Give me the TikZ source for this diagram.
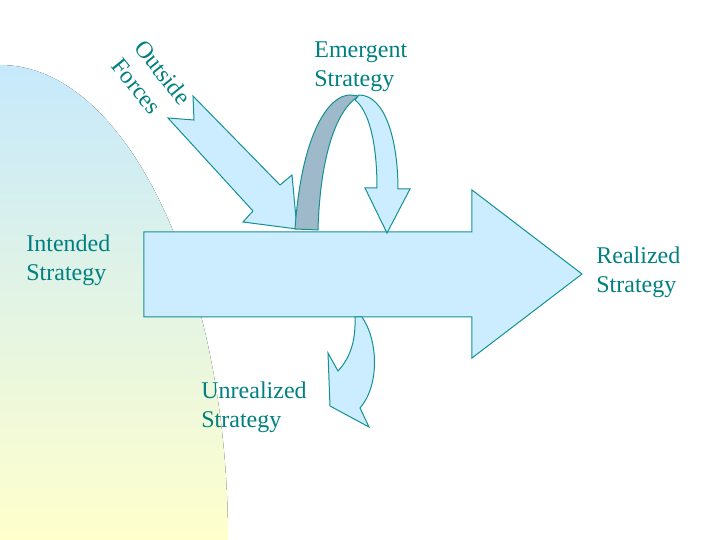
\documentclass[tikz,border=0pt]{standalone}
\usepackage{fontspec}
\setmainfont{Liberation Serif}
\usetikzlibrary{positioning}
\definecolor{tealCol}{RGB}{0,128,128}
\definecolor{edgeCol}{RGB}{20,145,145}
\definecolor{arrCol}{RGB}{204,236,255}
\definecolor{bandCol}{RGB}{158,185,202}
\definecolor{skyCol}{RGB}{198,233,252}
\definecolor{sunCol}{RGB}{255,255,204}
\tikzset{
  blk/.style={draw=edgeCol,line width=0.5pt,fill=arrCol,line join=miter},
  band/.style={blk,fill=bandCol},
  lab/.style={text=tealCol,font=\fontsize{12}{14.5}\selectfont,align=left,
              inner sep=0pt,anchor=north west},
  rlab/.style={text=tealCol,font=\fontsize{12}{14.5}\selectfont,
               inner sep=0pt,anchor=base west,rotate=-51},
}

\begin{document}
\begin{tikzpicture}[x=0.5pt,y=-0.5pt]
  \useasboundingbox (0,0) rectangle (720,540);
  % backdrop
  \fill[top color=skyCol,bottom color=sunCol]
    (0,65) .. controls (126,65) and (228,278) .. (228,540) -- (0,540) -- cycle;
  % main arrow
  \draw[blk] (144,232) -- (472,232) -- (472,190) -- (582,274) -- (472,358)
    -- (472,317) -- (144,317) -- cycle;
  % outside forces arrow
  \draw[blk] (193,96) -- (280,185) -- (292,175) -- (297,229) -- (243,222)
    -- (253,211) -- (168,118) -- (194,120) -- cycle;
  % emergent arrow
  \draw[band] (295,229) .. controls (302,130) and (330,95) .. (350,95) -- (359,96)
    .. controls (335,110) and (320,160) .. (318,230) -- cycle;
  \draw[blk] (359,95) .. controls (385,95) and (398,140) .. (398,189) -- (410,189)
    -- (387,233) -- (365,188) -- (377,188)
    .. controls (377,140) and (368,110) .. (355,100) -- cycle;
  % unrealized arrow
  \draw[blk] (355,317) .. controls (356,345) and (348,360) .. (338,371) -- (328,353)
    -- (330,406) -- (369,427) -- (360,408)
    .. controls (380,385) and (378,340) .. (362,317) -- cycle;
  % labels
  \node[lab] (emerg) at (314,41) {Emergent\\Strategy};
  \node[lab] (intend) at (26,234) {Intended\\Strategy};
  \node[lab] (real) at (596,246) {Realized\\Strategy};
  \node[lab] (unreal) at (201,381) {Unrealized\\Strategy};
  \node[rlab] (outs) at (133,48) {Outside};
  \node[rlab] (forc) at (110,66) {Forces};
\end{tikzpicture}
\end{document}
